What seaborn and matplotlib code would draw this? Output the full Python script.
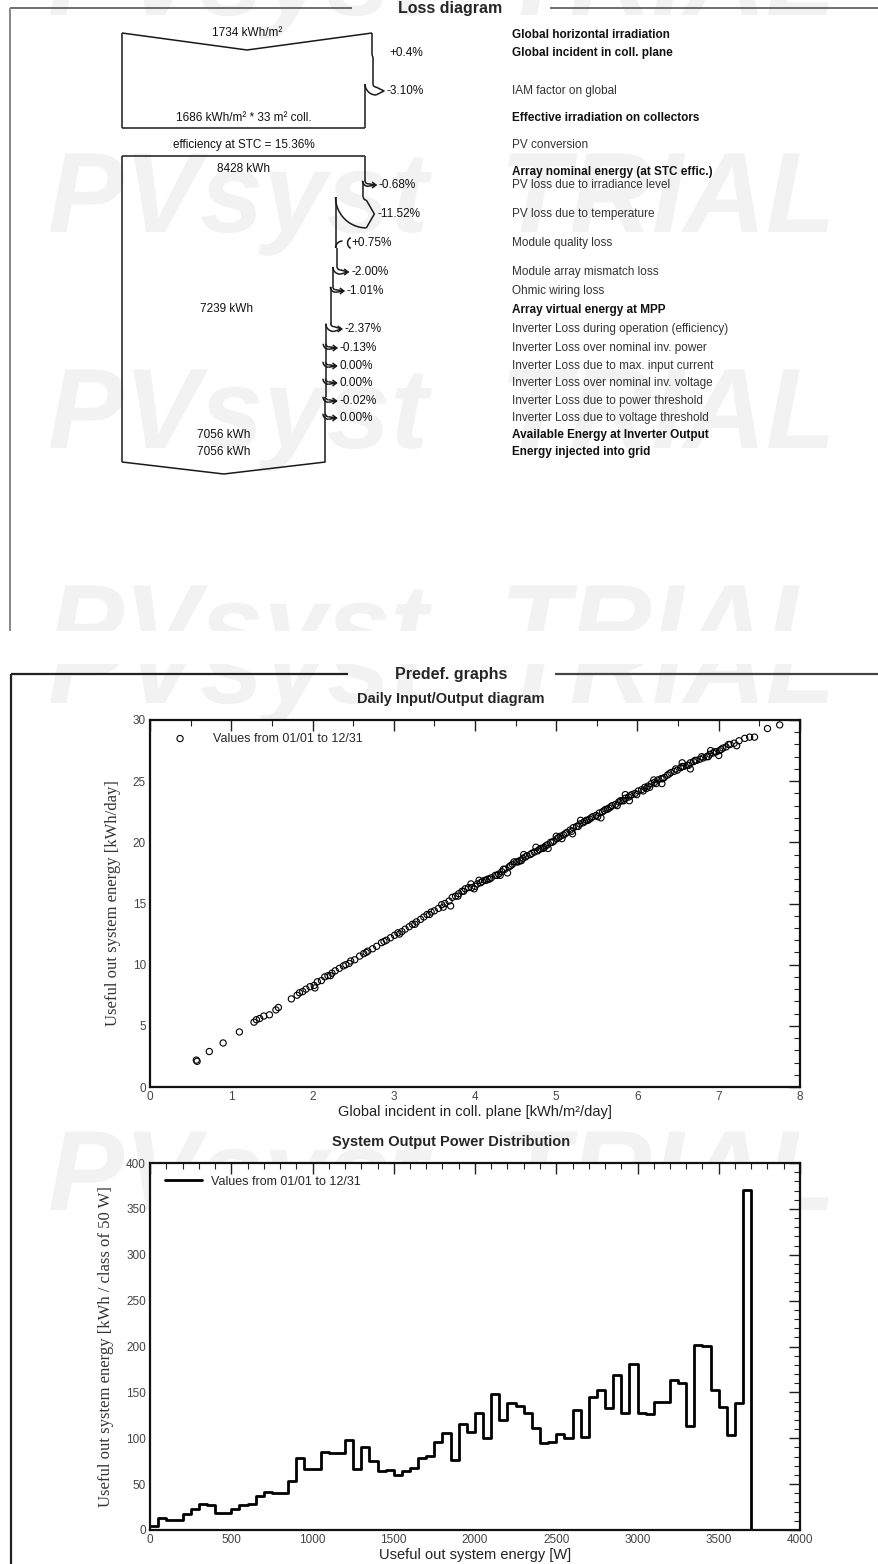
import matplotlib
matplotlib.use("Agg")
import matplotlib.pyplot as plt
from matplotlib.font_manager import FontProperties
from matplotlib.patches import PathPatch, Rectangle
from matplotlib.textpath import TextPath
from matplotlib.ticker import MultipleLocator
from matplotlib.transforms import Affine2D
import numpy as np
import pandas as pd
import seaborn as sns

W, H = 879, 1564

# ---------------- loss diagram values ----------------
GHI = 1734               # kWh/m2
GAIN_INCIDENT = 0.4      # %
IAM_LOSS = -3.10         # %
EFF_IRR = 1686           # kWh/m2
COLL_AREA = 33           # m2
STC_EFF = 15.36          # %
NOMINAL_ENERGY = 8428    # kWh
ARRAY_STEPS = [-0.68, -11.52, 0.75, -2.00, -1.01]
MPP_ENERGY = 7239
INVERTER_STEPS = [-2.37, -0.13, 0.00, 0.00, -0.02, 0.00]
INVERTER_OUT = 7056
GRID_ENERGY = 7056

ROW_LABELS = [
    "Global horizontal irradiation",
    "Global incident in coll. plane",
    "IAM factor on global",
    "Effective irradiation on collectors",
    "PV conversion",
    "Array nominal energy (at STC effic.)",
    "PV loss due to irradiance level",
    "PV loss due to temperature",
    "Module quality loss",
    "Module array mismatch loss",
    "Ohmic wiring loss",
    "Array virtual energy at MPP",
    "Inverter Loss during operation (efficiency)",
    "Inverter Loss over nominal inv. power",
    "Inverter Loss due to max. input current",
    "Inverter Loss over nominal inv. voltage",
    "Inverter Loss due to power threshold",
    "Inverter Loss due to voltage threshold",
    "Available Energy at Inverter Output",
    "Energy injected into grid",
]
ROW_BOLD = [1, 1, 0, 1, 0, 1, 0, 0, 0, 0, 0, 1, 0, 0, 0, 0, 0, 0, 1, 1]

# ---------------- daily input/output ----------------
DAILY_IRR = [
    0.57, 0.58, 0.73, 0.90, 1.10, 1.28, 1.31, 1.35, 1.40, 1.47,
    1.55, 1.58, 1.74, 1.81, 1.84, 1.88, 1.92, 1.97, 2.02, 2.06,
    2.11, 2.15, 2.19, 2.24, 2.28, 2.33, 2.38, 2.41, 2.47, 2.52,
    2.58, 2.63, 2.68, 2.74, 2.79, 2.85, 2.91, 2.96, 3.01, 3.05,
    3.10, 3.14, 3.19, 3.23, 3.28, 3.33, 3.37, 3.41, 3.46, 3.50,
    3.55, 3.59, 3.63, 3.68, 3.72, 3.76, 3.80, 3.84, 3.88, 3.92,
    3.96, 4.00, 4.03, 4.07, 4.12, 4.16, 4.20, 4.25, 4.29, 4.33,
    4.37, 4.42, 4.46, 4.51, 4.55, 4.59, 4.64, 4.68, 4.73, 4.77,
    4.81, 4.85, 4.89, 4.93, 4.97, 5.01, 5.05, 5.09, 5.13, 5.17,
    5.21, 5.25, 5.29, 5.33, 5.37, 5.41, 5.45, 5.49, 5.53, 5.57,
    5.61, 5.65, 5.69, 5.73, 5.77, 5.81, 5.85, 5.89, 5.93, 5.97,
    6.01, 6.05, 6.09, 6.13, 6.17, 6.21, 6.25, 6.29, 6.33, 6.37,
    6.41, 6.45, 6.49, 6.53, 6.57, 6.61, 6.65, 6.69, 6.73, 6.77,
    6.81, 6.85, 6.89, 6.93, 6.97, 7.01, 7.05, 7.09, 7.14, 7.19,
    7.25, 7.32, 7.38, 7.44, 7.60, 7.75,
    2.03, 2.22, 2.45, 2.66, 2.88, 3.07, 3.26, 3.44, 3.61, 3.79,
    3.86, 3.99, 4.09, 4.18, 4.27, 4.35, 4.44, 4.53, 4.62, 4.70,
    4.79, 4.87, 4.95, 5.03, 5.11, 5.19, 5.27, 5.35, 5.43, 5.51,
    5.59, 5.67, 5.75, 5.83, 5.91, 5.99, 6.07, 6.15, 6.23, 6.31,
    6.39, 6.47, 6.55, 6.63, 6.71, 6.79, 6.87, 6.95, 7.03, 7.12,
    3.95, 4.05, 4.60, 4.75, 5.00, 5.30, 5.85, 6.20, 6.55, 6.90,
    3.70, 4.40, 4.90, 5.20, 5.55, 5.90, 6.30, 6.65, 7.00, 7.22,
    4.14, 4.31, 4.48, 4.57, 4.84, 5.07, 5.39, 5.63, 5.79, 6.11,
]
DAILY_OUT = [
    2.2, 2.1, 2.9, 3.6, 4.5, 5.3, 5.5, 5.6, 5.8, 5.9,
    6.3, 6.5, 7.2, 7.5, 7.7, 7.8, 8.0, 8.2, 8.3, 8.6,
    8.7, 9.0, 9.1, 9.3, 9.5, 9.7, 9.9, 10.0, 10.3, 10.4,
    10.7, 10.9, 11.1, 11.3, 11.5, 11.8, 12.0, 12.2, 12.4, 12.6,
    12.7, 12.9, 13.1, 13.3, 13.5, 13.7, 13.9, 14.1, 14.3, 14.4,
    14.6, 14.9, 15.0, 15.2, 15.5, 15.6, 15.8, 16.0, 16.2, 16.3,
    16.3, 16.4, 16.6, 16.7, 16.9, 17.0, 17.1, 17.3, 17.4, 17.6,
    17.8, 18.0, 18.2, 18.4, 18.5, 18.7, 18.9, 19.0, 19.2, 19.3,
    19.5, 19.6, 19.8, 20.0, 20.1, 20.3, 20.5, 20.6, 20.8, 21.0,
    21.2, 21.3, 21.5, 21.6, 21.8, 21.9, 22.1, 22.2, 22.4, 22.5,
    22.7, 22.8, 23.0, 23.1, 23.3, 23.4, 23.6, 23.7, 23.9, 24.0,
    24.2, 24.3, 24.5, 24.6, 24.8, 24.9, 25.1, 25.2, 25.3, 25.5,
    25.7, 25.8, 25.9, 26.1, 26.2, 26.3, 26.5, 26.6, 26.7, 26.8,
    26.9, 27.0, 27.2, 27.3, 27.4, 27.5, 27.7, 27.8, 28.0, 28.1,
    28.3, 28.5, 28.6, 28.6, 29.3, 29.6,
    8.1, 9.1, 10.1, 11.0, 11.9, 12.5, 13.3, 14.1, 14.7, 15.6,
    16.0, 16.2, 16.8, 17.0, 17.3, 17.8, 18.1, 18.4, 18.8, 19.1,
    19.4, 19.7, 20.0, 20.4, 20.7, 20.9, 21.3, 21.7, 22.0, 22.1,
    22.6, 22.9, 23.0, 23.4, 23.8, 23.9, 24.2, 24.5, 24.8, 25.2,
    25.6, 26.0, 26.2, 26.3, 26.7, 27.0, 27.0, 27.4, 27.6, 28.0,
    16.6, 16.9, 19.0, 19.6, 20.5, 21.8, 23.9, 25.1, 26.5, 27.5,
    14.8, 17.5, 19.5, 20.7, 22.0, 23.4, 24.8, 26.0, 27.1, 27.9,
    16.9, 17.3, 18.4, 18.5, 19.5, 20.3, 21.8, 22.7, 23.4, 24.4,
]

# ---------------- output power distribution ----------------
BIN_W = 50  # W per class
HIST_KWH = [
    4, 13, 11, 11, 17, 23, 28, 27, 18, 18,
    23, 27, 28, 37, 41, 40, 40, 53, 78, 66,
    67, 85, 84, 84, 98, 66, 90, 75, 64, 65,
    60, 64, 68, 79, 81, 96, 106, 76, 116, 107,
    128, 100, 148, 120, 138, 135, 128, 111, 95, 96,
    105, 100, 131, 101, 145, 153, 133, 169, 128, 181,
    127, 126, 140, 140, 164, 160, 113, 202, 201, 153,
    134, 104, 138, 371, 0,
]
LEGEND_TEXT = "Values from 01/01 to 12/31"

# ---------------- layout (pixels, y downward) ----------------
ROW_Y = [35, 53, 91, 118, 145, 172, 185, 214, 243, 272,
         291, 310, 329, 348, 366, 383, 401, 418, 435, 452]
LEFT = 122
IRR_PX = 250 / GHI
ENERGY_PX = 243 / NOMINAL_ENERGY
B1_TOP, B1_BOTTOM, B2_TOP, B2_BOTTOM = 33, 128, 156, 462
TURN, HEAD = 3, 8
LINE = "#1a1a1a"
LW = 1.1
MARK = "#f2f2f2"

sns.set_style("white")
plt.rcParams["font.family"] = ["Liberation Sans", "DejaVu Sans"]

fig = plt.figure(figsize=(W / 100, H / 100), dpi=100)
bg = fig.add_axes([0, 0, 1, 1], zorder=0)
bg.set_xlim(0, W)
bg.set_ylim(H, 0)
bg.axis("off")


def rect(left, top, right, bottom):
    return [left / W, 1 - bottom / H, (right - left) / W, (bottom - top) / H]


def seg(xs, ys, **kw):
    bg.plot(xs, ys, color=kw.pop("color", LINE), lw=kw.pop("lw", LW),
            solid_capstyle="butt", **kw)


# "PVsyst TRIAL" watermarks as glyph outlines, clipped to each report section
mark_font = FontProperties(family="Liberation Sans", weight="bold", style="italic")
for (top, bottom), rows in (((0, 631), [15, 232, 448, 664]),
                            ((664, H), [703, 1210])):
    clip = Rectangle((0, top), W, bottom - top, transform=bg.transData)
    for yb in rows:
        for word, x0 in (("PVsyst", 48), ("TRIAL", 500)):
            glyphs = TextPath((0, 0), word, size=114, prop=mark_font)
            tr = Affine2D().scale(1, -1).translate(x0, yb) + bg.transData
            patch = PathPatch(glyphs, transform=tr, facecolor=MARK,
                              edgecolor="none", zorder=0)
            bg.add_patch(patch)
            patch.set_clip_path(clip)

# section frames
seg([10, 352], [8, 8], color="#555555", lw=1.2)
seg([550, W], [8, 8], color="#555555", lw=1.2)
seg([10, 10], [8, 631], color="#888888", lw=1.4)
bg.text(450, 13, "Loss diagram", fontsize=11.5, fontweight="bold",
        ha="center", va="baseline")
seg([11, 348], [674, 674], color="#222222", lw=1.6)
seg([555, W], [674, 674], color="#444444", lw=1.6)
seg([11, 11], [674, H], color="#222222", lw=1.6)
bg.text(451, 675, "Predef. graphs", fontsize=11.5, fontweight="bold",
        ha="center", va="center")


def pct_text(x, y, p, dec=2):
    if p > 0:
        s = f"+{p:.{dec}f}%"
    else:
        s = f"{p:.{dec}f}%" if p < 0 else f"{0:.{dec}f}%"
    bg.text(x, y, s, fontsize=8.5, va="center", ha="left", color="#111111")


def loss_arrow(x_old, x_new, y_row, p):
    w = max(x_old - x_new, 2.5)
    y0 = y_row - TURN - w / 2
    cx = x_old + TURN
    th = np.linspace(np.pi, np.pi / 2, 24)
    seg(cx + TURN * np.cos(th), y0 + TURN * np.sin(th))
    seg(cx + (TURN + w) * np.cos(th), y0 + (TURN + w) * np.sin(th))
    tip = (cx + HEAD, y0 + TURN + w / 2)
    seg([cx, tip[0], cx], [y0 + TURN, tip[1], y0 + TURN + w])
    if w < 6:
        seg([tip[0] - 4, tip[0], tip[0] - 4], [tip[1] - 3, tip[1], tip[1] + 3])
    pct_text(tip[0] + 3, y_row, p)
    return y0


def gain_hook(x_old, y_row, p, dec=2, hook=True):
    if hook:
        th = np.linspace(np.pi, 1.5 * np.pi, 20)
        seg(x_old + 7 + 7 * np.cos(th), y_row + 5 + 7 * np.sin(th))
        th2 = np.linspace(0.65 * np.pi, 1.35 * np.pi, 20)
        seg(x_old + 18 + 6 * np.cos(th2), y_row + 6 * np.sin(th2))
        pct_text(x_old + 16, y_row, p, dec)
    else:
        pct_text(x_old + 17, y_row, p, dec)
    return y_row + 5


def walk(x_start, y_start, steps, rows):
    x, y = x_start, y_start
    w = x_start - LEFT
    for p, r in zip(steps, rows):
        w_new = w * (1 + p / 100)
        x_new = LEFT + w_new
        if p > 0:
            y_turn = gain_hook(x, ROW_Y[r], p)
            seg([x, x], [y, y_turn])
            y = y_turn
        else:
            y0 = loss_arrow(x, x_new, ROW_Y[r], p)
            seg([x, x], [y, y0])
            y = y0
        x, w = x_new, w_new
    return x, y


# block 1 : irradiation
w_ghi = GHI * IRR_PX
w_inc = w_ghi * (1 + GAIN_INCIDENT / 100)
w_eff = EFF_IRR * IRR_PX
seg([LEFT, LEFT + w_ghi / 2, LEFT + w_ghi], [B1_TOP, B1_TOP + 17, B1_TOP])
seg([LEFT, LEFT], [B1_TOP, B1_BOTTOM])
seg([LEFT + w_ghi] * 2, [B1_TOP, ROW_Y[1] + 2])
seg([LEFT + w_ghi, LEFT + w_inc], [ROW_Y[1] + 2, ROW_Y[1] + 4])
gain_hook(LEFT + w_ghi, ROW_Y[1], GAIN_INCIDENT, dec=1, hook=False)
y0 = loss_arrow(LEFT + w_inc, LEFT + w_eff, ROW_Y[2], IAM_LOSS)
seg([LEFT + w_inc] * 2, [ROW_Y[1] + 4, y0])
seg([LEFT + w_eff] * 2, [y0, B1_BOTTOM])
seg([LEFT, LEFT + w_eff], [B1_BOTTOM, B1_BOTTOM])
bg.text(LEFT + w_ghi / 2, B1_TOP, f"{GHI} kWh/m²", fontsize=8.5,
        ha="center", va="center", color="#111111")
bg.text(LEFT + w_eff / 2, ROW_Y[3], f"{EFF_IRR} kWh/m² * {COLL_AREA} m² coll.",
        fontsize=8.5, ha="center", va="center", color="#111111")
bg.text(LEFT + w_eff / 2, ROW_Y[4], f"efficiency at STC = {STC_EFF:.2f}%",
        fontsize=8.5, ha="center", va="center", color="#111111")

# block 2 : energy
w_nom = NOMINAL_ENERGY * ENERGY_PX
seg([LEFT, LEFT + w_nom], [B2_TOP, B2_TOP])
seg([LEFT, LEFT], [B2_TOP, B2_BOTTOM])
bg.text(LEFT + w_nom / 2, ROW_Y[5] - 3, f"{NOMINAL_ENERGY} kWh", fontsize=8.5,
        ha="center", va="center", color="#111111")
x_mpp, y_mpp = walk(LEFT + w_nom, B2_TOP, ARRAY_STEPS, range(6, 11))
bg.text(LEFT + MPP_ENERGY * ENERGY_PX / 2, ROW_Y[11] - 1, f"{MPP_ENERGY} kWh",
        fontsize=8.5, ha="center", va="center", color="#111111")
x_out, y_out = walk(x_mpp, y_mpp, INVERTER_STEPS, range(12, 18))
seg([x_out, x_out], [y_out, B2_BOTTOM])
w_out = x_out - LEFT
seg([LEFT, LEFT + w_out / 2, x_out], [B2_BOTTOM, B2_BOTTOM + 12, B2_BOTTOM])
bg.text(LEFT + w_out / 2, ROW_Y[18], f"{INVERTER_OUT} kWh", fontsize=8.5,
        ha="center", va="center", color="#111111")
bg.text(LEFT + w_out / 2, ROW_Y[19], f"{GRID_ENERGY} kWh", fontsize=8.5,
        ha="center", va="center", color="#111111")

for label, bold, y in zip(ROW_LABELS, ROW_BOLD, ROW_Y):
    bg.text(512, y, label, fontsize=8.5, va="center", ha="left",
            fontweight="bold" if bold else "normal",
            color="#111111" if bold else "#333333")


# ---------------- the two graphs ----------------
def style_axes(ax, xmaj, xmin, ymaj, ymin):
    ax.set_facecolor("white")
    ax.xaxis.set_major_locator(MultipleLocator(xmaj))
    ax.xaxis.set_minor_locator(MultipleLocator(xmin))
    ax.yaxis.set_major_locator(MultipleLocator(ymaj))
    ax.yaxis.set_minor_locator(MultipleLocator(ymin))
    ax.tick_params(which="major", direction="in", length=8, width=1,
                   top=True, right=True, labelsize=8.5, labelcolor="#444444",
                   pad=3, color="#222222")
    ax.tick_params(which="minor", direction="in", length=4, width=0.8,
                   top=True, right=True, color="#222222")
    for s in ax.spines.values():
        s.set_visible(True)
        s.set_linewidth(1.6)
        s.set_color("#111111")


ax1 = fig.add_axes(rect(150, 720, 800, 1087), zorder=2)
daily = pd.DataFrame({"irr": DAILY_IRR, "out": DAILY_OUT})
sns.scatterplot(data=daily, x="irr", y="out", ax=ax1, marker="o", s=20,
                facecolors="none", edgecolor="black", linewidth=0.8,
                label=LEGEND_TEXT)
ax1.set_xlim(0, 8)
ax1.set_ylim(0, 30)
style_axes(ax1, 1, 0.5, 5, 1)
ax1.set_xlabel("Global incident in coll. plane [kWh/m²/day]", fontsize=10.5,
               color="#222222")
ax1.set_ylabel("Useful out system energy [kWh/day]", fontsize=12,
               family=["Liberation Serif", "DejaVu Serif"], color="#333333")
ax1.xaxis.set_label_coords(0.5, -0.05)
ax1.yaxis.set_label_coords(-0.045, 0.5)
ax1.legend(loc="upper left", bbox_to_anchor=(0.027, 0.965), frameon=False,
           borderaxespad=0, borderpad=0, handletextpad=1.6, fontsize=9)
bg.text(451, 699, "Daily Input/Output diagram", fontsize=10.5,
        fontweight="bold", ha="center", va="center")

ax2 = fig.add_axes(rect(150, 1163, 800, 1530), zorder=2)
edges = [i * BIN_W for i in range(len(HIST_KWH) + 1)]
dist = pd.DataFrame({"power": [e + BIN_W / 2 for e in edges[:-1]],
                     "kwh": HIST_KWH})
sns.histplot(data=dist, x="power", weights="kwh", bins=edges, element="step",
             fill=False, color="black", linewidth=2, ax=ax2, label=LEGEND_TEXT)
ax2.set_xlim(0, 4000)
ax2.set_ylim(0, 400)
style_axes(ax2, 500, 100, 50, 10)
ax2.set_xlabel("Useful out system energy [W]", fontsize=10.5, color="#222222")
ax2.set_ylabel("Useful out system energy [kWh / class of 50 W]", fontsize=12,
               family=["Liberation Serif", "DejaVu Serif"], color="#333333")
ax2.xaxis.set_label_coords(0.5, -0.05)
ax2.yaxis.set_label_coords(-0.055, 0.5)
ax2.legend(loc="upper left", bbox_to_anchor=(0.023, 0.965), frameon=False,
           borderaxespad=0, borderpad=0, handlelength=3.0, handletextpad=0.7,
           fontsize=9)
bg.text(451, 1142, "System Output Power Distribution",
        fontsize=10.5, fontweight="bold", ha="center", va="center")

fig.savefig("out.png", dpi=100, facecolor="white")
